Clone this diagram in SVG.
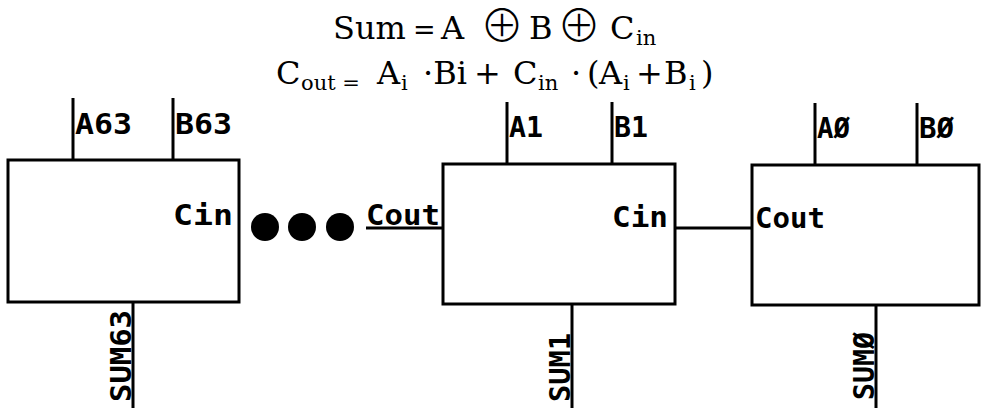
<svg xmlns="http://www.w3.org/2000/svg" width="986" height="408" viewBox="0 0 986 408">
<style>
.box{fill:#fff;stroke:#000;stroke-width:3}
.w{stroke:#000;stroke-width:3;fill:none}
.lbl{font-family:"DejaVu Sans Mono","Liberation Mono",monospace;font-weight:bold;font-size:28px;fill:#000}
.eq{font-family:"DejaVu Serif","Liberation Serif",serif;fill:#000}
.big{font-size:32px}
.sub{font-size:21px}
.op{font-family:"Noto Sans CJK SC","DejaVu Sans",sans-serif;font-weight:300;font-size:44px}
</style>
<rect width="986" height="408" fill="#fff"/>
<g id="equations">
<text class="eq big" y="39"><tspan x="333">Sum</tspan><tspan x="413" font-size="27">=</tspan><tspan x="441">A</tspan><tspan class="op" x="480" y="42">⊕</tspan><tspan x="529" y="39">B</tspan><tspan class="op" x="557" y="42">⊕</tspan><tspan x="610" y="39">C</tspan><tspan class="sub" x="636" y="45">in</tspan></text>
<text class="eq big" y="84"><tspan x="276">C</tspan><tspan class="sub" x="301" y="90">out =</tspan><tspan x="377" y="84">A</tspan><tspan class="sub" x="401" y="90">i</tspan><tspan x="423" y="84">·Bi</tspan><tspan x="474">+</tspan><tspan x="513">C</tspan><tspan class="sub" x="538" y="90">in</tspan><tspan x="571" y="84">·</tspan><tspan x="587">(</tspan><tspan x="599">A</tspan><tspan class="sub" x="623" y="90">i</tspan><tspan x="636" y="84">+</tspan><tspan x="664">B</tspan><tspan class="sub" x="689" y="90">i</tspan><tspan x="701" y="84">)</tspan></text>
</g>
<g id="connectors">
<line class="w" x1="73" y1="98" x2="73" y2="160"/>
<line class="w" x1="173" y1="98" x2="173" y2="160"/>
<line class="w" x1="133" y1="302" x2="133" y2="408"/>
<line class="w" x1="507" y1="102" x2="507" y2="164"/>
<line class="w" x1="612" y1="102" x2="612" y2="164"/>
<line class="w" x1="572" y1="304" x2="572" y2="408"/>
<line class="w" x1="366" y1="228" x2="443" y2="228"/>
<line class="w" x1="675" y1="228" x2="752" y2="228"/>
<line class="w" x1="815" y1="103" x2="815" y2="165"/>
<line class="w" x1="917" y1="103" x2="917" y2="165"/>
<line class="w" x1="876" y1="305" x2="876" y2="408"/>
</g>
<g id="bit63">
<rect class="box" x="8" y="160" width="231" height="142"/>
<text class="lbl" x="75" y="134" textLength="57" lengthAdjust="spacingAndGlyphs">A63</text>
<text class="lbl" x="175" y="134" textLength="57" lengthAdjust="spacingAndGlyphs">B63</text>
<text class="lbl" x="173" y="225" textLength="60" lengthAdjust="spacingAndGlyphs">Cin</text>
<text class="lbl" transform="translate(131,402) rotate(-90)" textLength="92" lengthAdjust="spacingAndGlyphs">SUM63</text>
</g>
<g id="ellipsis">
<circle cx="265" cy="227" r="14" fill="#000"/>
<circle cx="302" cy="227" r="14" fill="#000"/>
<circle cx="340" cy="227" r="14" fill="#000"/>
</g>
<g id="bit1">
<rect class="box" x="443" y="164" width="232" height="140"/>
<text class="lbl" x="509" y="137" textLength="34" lengthAdjust="spacingAndGlyphs">A1</text>
<text class="lbl" x="614" y="137" textLength="34" lengthAdjust="spacingAndGlyphs">B1</text>
<text class="lbl" x="366" y="225" textLength="74" lengthAdjust="spacingAndGlyphs">Cout</text>
<text class="lbl" x="612" y="227" textLength="56" lengthAdjust="spacingAndGlyphs">Cin</text>
<text class="lbl" transform="translate(570,402) rotate(-90)" textLength="69" lengthAdjust="spacingAndGlyphs">SUM1</text>
</g>
<g id="bit0">
<rect class="box" x="752" y="165" width="227" height="140"/>
<text class="lbl" x="817" y="138" textLength="33" lengthAdjust="spacingAndGlyphs">AØ</text>
<text class="lbl" x="919" y="138" textLength="35" lengthAdjust="spacingAndGlyphs">BØ</text>
<text class="lbl" x="755" y="228" textLength="70" lengthAdjust="spacingAndGlyphs">Cout</text>
<text class="lbl" transform="translate(874,400) rotate(-90)" textLength="68" lengthAdjust="spacingAndGlyphs">SUMØ</text>
</g>
</svg>
